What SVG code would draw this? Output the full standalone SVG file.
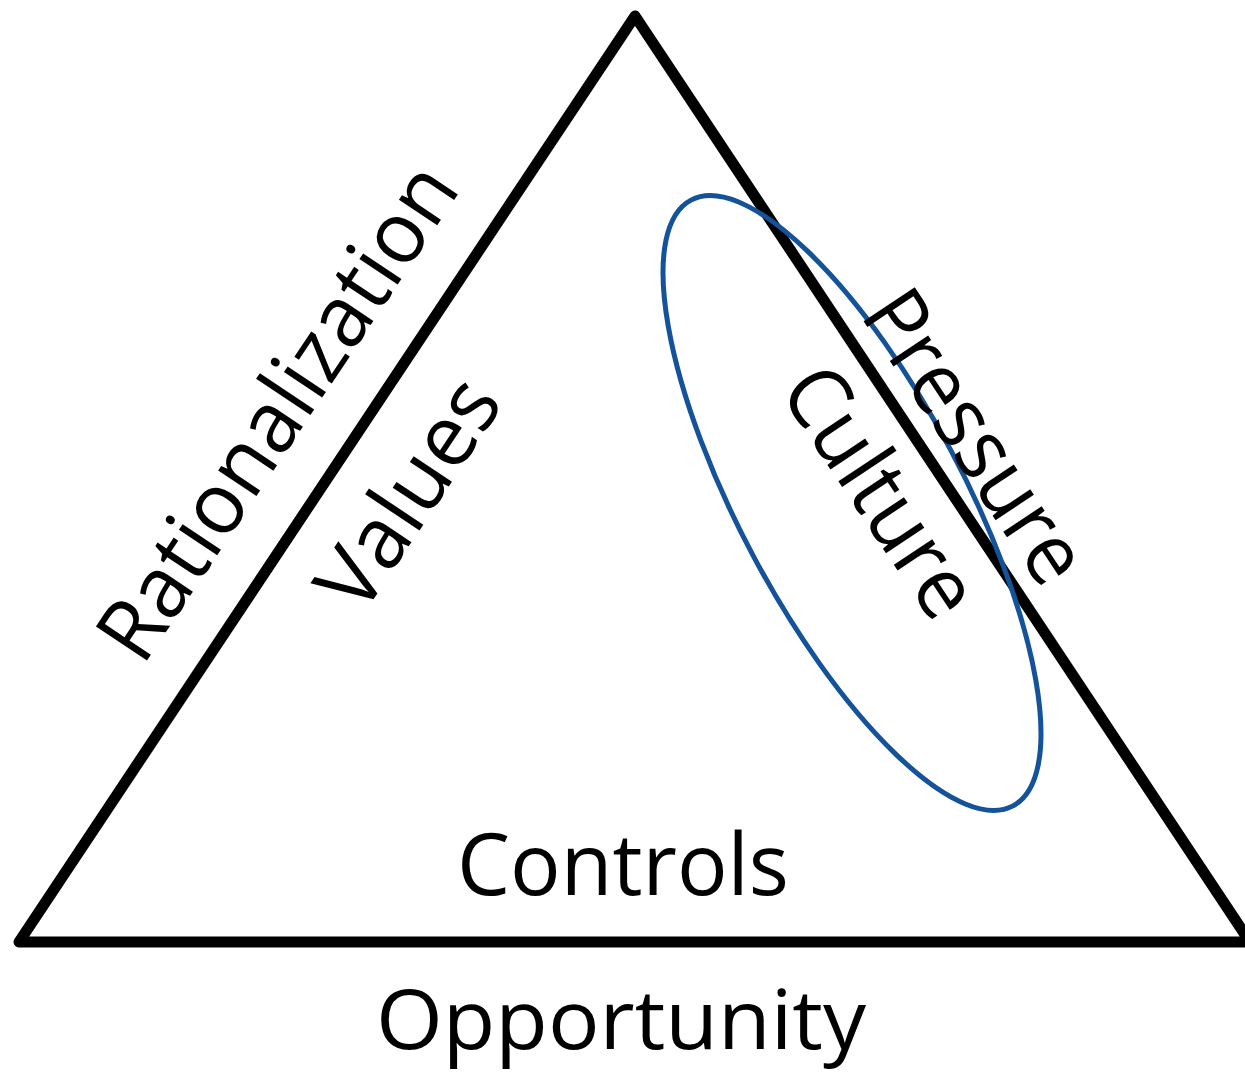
<svg xmlns="http://www.w3.org/2000/svg" width="1245" height="1072" viewBox="0 0 1245 1072">
<style>
.lbl{font-family:"Open Sans","Liberation Sans",sans-serif;font-size:86px;fill:#000;text-anchor:middle}
</style>
<rect x="0" y="0" width="1245" height="1072" fill="#fff"/>
<g id="connectors">
<polygon id="triangle" points="635,16 19,942 1250,942" fill="none" stroke="#000" stroke-width="11" stroke-linejoin="round"/>
</g>
<g id="culture-ellipse">
<ellipse cx="852" cy="503" rx="343" ry="112" transform="rotate(62 852 503)" fill="none" stroke="#14529a" stroke-width="5"/>
</g>
<g id="rationalization">
<text class="lbl" transform="translate(302,428) rotate(-56.3)" textLength="575" lengthAdjust="spacingAndGlyphs">Rationalization</text>
</g>
<g id="values">
<text class="lbl" transform="translate(433,510) rotate(-56.3)" textLength="258" lengthAdjust="spacingAndGlyphs">Values</text>
</g>
<g id="pressure">
<text class="lbl" transform="translate(951,453) rotate(56.4)" textLength="332" lengthAdjust="spacingAndGlyphs">Pressure</text>
</g>
<g id="culture">
<text class="lbl" transform="translate(856,508) rotate(56.4)" textLength="282" lengthAdjust="spacingAndGlyphs">Culture</text>
</g>
<g id="controls">
<text class="lbl" x="623" y="895" textLength="332" lengthAdjust="spacingAndGlyphs">Controls</text>
</g>
<g id="opportunity">
<text class="lbl" x="621" y="1049" style="font-size:82px" textLength="490" lengthAdjust="spacingAndGlyphs">Opportunity</text>
</g>
</svg>
